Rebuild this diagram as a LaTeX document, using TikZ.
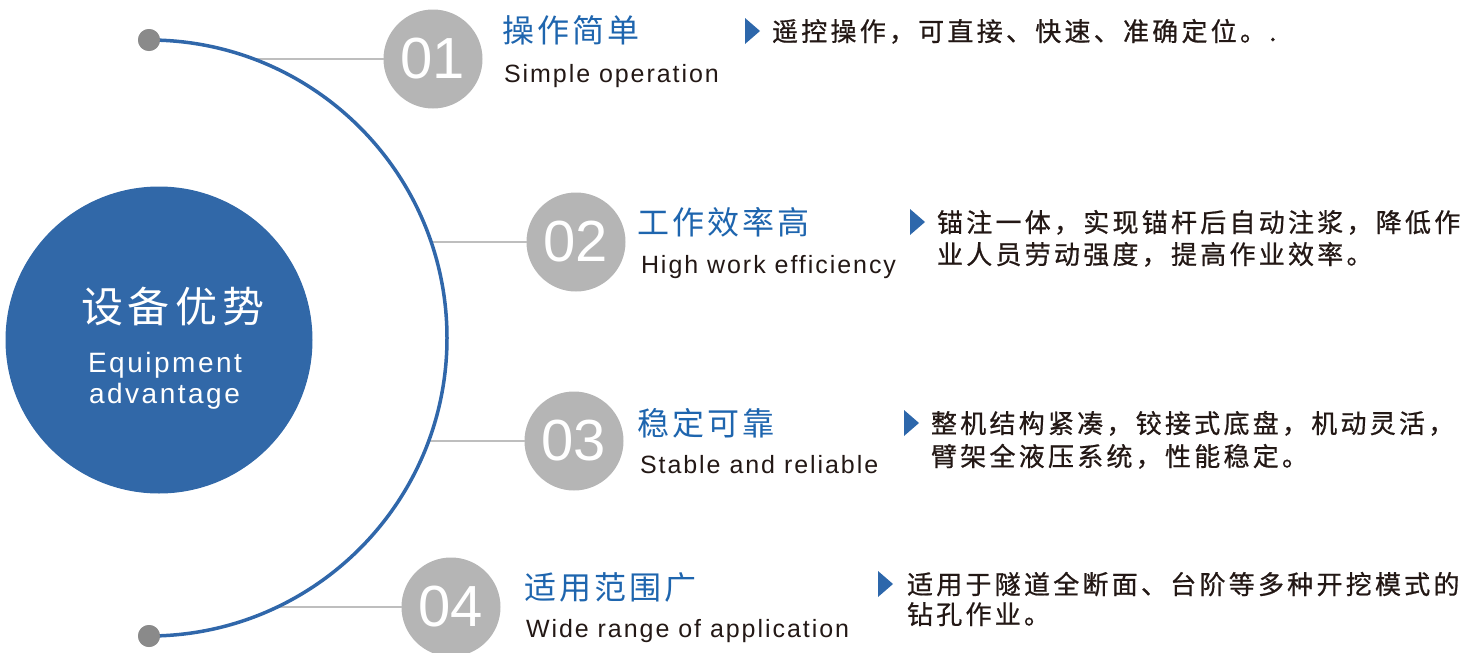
\documentclass[tikz,border=0pt]{standalone}
\usepackage{fontspec}
\setmainfont{Liberation Sans}
\newfontfamily\cjkbody[LetterSpace=12.5,FakeBold=0.7]{Noto Sans CJK SC}
\newfontfamily\cjktitle[LetterSpace=10]{Noto Sans CJK SC}
\newfontfamily\cjkcenter[LetterSpace=12]{Noto Sans CJK SC}
\newfontfamily\entext[LetterSpace=7.8,Ligatures=NoCommon]{Liberation Sans}
\newfontfamily\encenter[LetterSpace=9,Ligatures=NoCommon]{Liberation Sans}
\newfontfamily\numfont{Liberation Sans}
\definecolor{mainblue}{HTML}{3168A8}
\definecolor{titleblue}{HTML}{1E65AE}
\definecolor{triblue}{HTML}{2D67AB}
\definecolor{arcblue}{HTML}{3067AA}
\definecolor{numgrey}{HTML}{B5B5B5}
\definecolor{dotgrey}{HTML}{8A8A8A}
\definecolor{linegrey}{HTML}{BEBEBE}
\definecolor{txt}{HTML}{231815}
\begin{document}
\begin{tikzpicture}[x=1pt,y=-1pt,
  every node/.style={inner sep=0pt, outer sep=0pt},
  numc/.style={circle, fill=numgrey, minimum size=99pt, text=white, font=\numfont\fontsize{58}{58}\selectfont},
  dotc/.style={circle, fill=dotgrey, minimum size=22pt},
  conn/.style={draw=linegrey, line width=1.5pt},
  arcline/.style={draw=arcblue, line width=3.5pt},
  ttl/.style={anchor=base west, text=titleblue, font=\cjktitle\fontsize{32}{32}\selectfont},
  eng/.style={anchor=base west, text=txt, font=\entext\fontsize{25}{25}\selectfont},
  body/.style={anchor=base west, text=txt, font=\cjkbody\fontsize{26}{26}\selectfont},
  tri/.style={fill=triblue}
]
\useasboundingbox (0,0) rectangle (1468,653);
% centre circle
\node[circle, fill=mainblue, minimum size=307pt] (main) at (159,340) {};
\node[anchor=base west, text=white, font=\cjkcenter\fontsize{42}{42}\selectfont] (mzh) at (81,322) {设备优势};
\node[anchor=base west, text=white, font=\encenter\fontsize{28}{28}\selectfont] (men1) at (88,372) {Equipment};
\node[anchor=base west, text=white, font=\encenter\fontsize{28}{28}\selectfont] (men2) at (89,403) {advantage};
% connectors
\coordinate (c1) at (254,59);
\coordinate (c2) at (432,242);
\coordinate (c3) at (429,441);
\coordinate (c4) at (277,607);
\node[numc] (n1) at (433,59) {01};
\node[numc] (n2) at (576,242) {02};
\node[numc] (n3) at (574,441) {03};
\node[numc] (n4) at (451,607) {04};
\draw[conn] (c1) -- (n1);
\draw[conn] (c2) -- (n2);
\draw[conn] (c3) -- (n3);
\draw[conn] (c4) -- (n4);
% arc
\node[dotc] (top) at (149,40) {};
\node[dotc] (bot) at (149,636) {};
\draw[arcline] (top.center) arc[start angle=-90, end angle=90, radius=298];
\node[dotc] at (top.center) {};
\node[dotc] at (bot.center) {};
% item 1
\node[ttl] (t1) at (502,42) {操作简单};
\node[eng] (e1) at (504,82) {Simple operation};
\fill[tri] (745,18) -- (760,31) -- (745,44) -- cycle;
\node[body] (b1) at (772,41) {遥控操作，可直接、快速、准确定位。.};
% item 2
\node[ttl] (t2) at (637,234) {工作效率高};
\node[eng] (e2) at (641,273) {High work efficiency};
\fill[tri] (910,209) -- (925,222) -- (910,235) -- cycle;
\node[body] (b2a) at (937,232) {锚注一体，实现锚杆后自动注浆，降低作};
\node[body] (b2b) at (937,264) {业人员劳动强度，提高作业效率。};
% item 3
\node[ttl] (t3) at (637,435) {稳定可靠};
\node[eng] (e3) at (640,473) {Stable and reliable};
\fill[tri] (904,410) -- (919,423) -- (904,436) -- cycle;
\node[body] (b3a) at (931,433) {整机结构紧凑，铰接式底盘，机动灵活，};
\node[body] (b3b) at (931,466) {臂架全液压系统，性能稳定。};
% item 4
\node[ttl] (t4) at (524,599) {适用范围广};
\node[eng] (e4) at (526,637) {Wide range of application};
\fill[tri] (878,571) -- (893,584) -- (878,597) -- cycle;
\node[body] (b4a) at (907,594) {适用于隧道全断面、台阶等多种开挖模式的};
\node[body] (b4b) at (907,624) {钻孔作业。};
\end{tikzpicture}
\end{document}
